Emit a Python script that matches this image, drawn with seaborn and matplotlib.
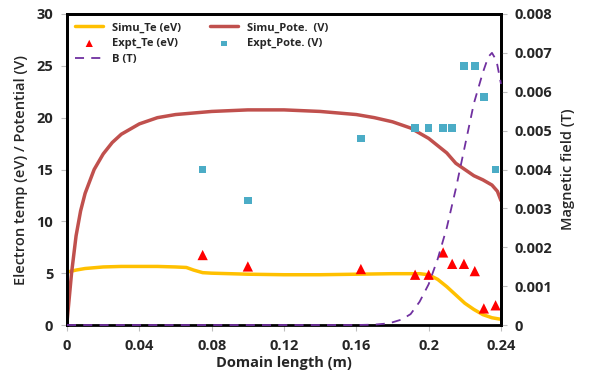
import matplotlib
matplotlib.use("Agg")
import matplotlib.pyplot as plt
import seaborn as sns
import pandas as pd

sns.set_theme(style="white")
plt.rcParams['font.family'] = ['Open Sans', 'DejaVu Sans']

# Simulated electron temperature (eV)
simu_te_x = [0, 0.005, 0.01, 0.02, 0.03, 0.04, 0.05, 0.06, 0.066, 0.07, 0.075, 0.08, 0.1, 0.12, 0.14, 0.16,
             0.18, 0.195, 0.2, 0.205, 0.21, 0.215, 0.22, 0.225, 0.23, 0.235, 0.24]
simu_te_y = [5.1, 5.3, 5.45, 5.6, 5.65, 5.65, 5.65, 5.6, 5.55, 5.3, 5.05, 5.0, 4.9, 4.85, 4.85, 4.9,
             4.95, 4.95, 4.85, 4.4, 3.7, 2.9, 2.1, 1.5, 1.0, 0.7, 0.55]

# Simulated potential (V)
simu_pot_x = [0, 0.0025, 0.005, 0.0075, 0.01, 0.015, 0.02, 0.025, 0.03, 0.04, 0.05, 0.06, 0.08, 0.1, 0.12,
              0.14, 0.16, 0.17, 0.18, 0.19, 0.2, 0.21, 0.215, 0.22, 0.225, 0.23, 0.235, 0.238, 0.24]
simu_pot_y = [0.3, 5.0, 8.6, 11.0, 12.7, 15.0, 16.5, 17.6, 18.4, 19.4, 20.0, 20.3, 20.6, 20.75, 20.75,
              20.6, 20.3, 20.0, 19.6, 19.0, 18.0, 16.6, 15.6, 15.0, 14.4, 14.0, 13.5, 12.9, 12.0]

# Experimental data
expt_x = [0.075, 0.1, 0.1625, 0.1925, 0.2, 0.208, 0.213, 0.2195, 0.2255, 0.2305, 0.237]
expt_te = [6.75, 5.65, 5.4, 4.85, 4.85, 7.0, 5.9, 5.9, 5.2, 1.6, 1.9]
expt_x_pot = [0.075, 0.1, 0.1625, 0.1925, 0.2, 0.208, 0.213, 0.2195, 0.2255, 0.2305, 0.237]
expt_pot = [15.0, 12.0, 18.0, 19.0, 19.0, 19.0, 19.0, 25.0, 25.0, 22.0, 15.0]

# Magnetic field (T)
b_x = [0, 0.04, 0.08, 0.12, 0.16, 0.17, 0.175, 0.18, 0.185, 0.19, 0.195, 0.2, 0.205, 0.21, 0.215, 0.22,
       0.225, 0.23, 0.233, 0.235, 0.2375, 0.24]
b_y = [0, 0, 0, 0, 0, 0.00001, 0.00003, 0.00007, 0.00014, 0.00028, 0.0006, 0.00105, 0.0017, 0.0025,
       0.0035, 0.0046, 0.0057, 0.0065, 0.0069, 0.0070, 0.0068, 0.0062]

fig = plt.figure(figsize=(5.89, 3.76), dpi=100)
ax = fig.add_axes([0.1138, 0.1356, 0.7368, 0.8272])
ax2 = ax.twinx()

df_te = pd.DataFrame({"x": simu_te_x, "y": simu_te_y})
df_pot = pd.DataFrame({"x": simu_pot_x, "y": simu_pot_y})
df_b = pd.DataFrame({"x": b_x, "y": b_y})

sns.lineplot(data=df_te, x="x", y="y", ax=ax, color="#FFC000", lw=2.5, label="Simu_Te (eV)", sort=False)
sns.lineplot(data=df_pot, x="x", y="y", ax=ax, color="#C0504D", lw=2.5, label="Simu_Pote.  (V)", sort=False)
sns.scatterplot(x=expt_x, y=expt_te, ax=ax, color="#FF0000", marker="^", s=55, edgecolor="none",
                label="Expt_Te (eV)", zorder=4)
sns.scatterplot(x=expt_x_pot, y=expt_pot, ax=ax, color="#4BACC6", marker="s", s=30, edgecolor="none",
                label="Expt_Pote. (V)", zorder=4)
sns.lineplot(data=df_b, x="x", y="y", ax=ax2, color="#7030A0", lw=1.3, ls=(0, (5, 4)), label="B (T)", sort=False)
for ln in ax2.get_lines():
    ln.set_clip_on(False)
    ln.set_zorder(5)

ax.set_xlim(0, 0.24)
ax.set_ylim(0, 30)
ax2.set_ylim(0, 0.008)
ax.set_xticks([0, 0.04, 0.08, 0.12, 0.16, 0.2, 0.24])
ax.set_xticklabels(["0", "0.04", "0.08", "0.12", "0.16", "0.2", "0.24"])
ax.set_yticks([0, 5, 10, 15, 20, 25, 30])
ax2.set_yticks([0, 0.001, 0.002, 0.003, 0.004, 0.005, 0.006, 0.007, 0.008])
ax2.set_yticklabels(["0", "0.001", "0.002", "0.003", "0.004", "0.005", "0.006", "0.007", "0.008"])

for a in (ax, ax2):
    a.tick_params(axis="both", which="both", length=4, width=0.8, color="#BFBFBF", labelsize=10.5, pad=6)
    for lbl in a.get_xticklabels() + a.get_yticklabels():
        lbl.set_fontweight("bold")
    for s in a.spines.values():
        s.set_color("black")
        s.set_linewidth(2)
ax2.spines["bottom"].set_visible(False)
ax.tick_params(axis="both", bottom=True, left=True)
ax2.tick_params(axis="y", right=True)

ax.set_xlabel("Domain length (m)", fontsize=10.5, fontweight="bold", labelpad=2)
ax.set_ylabel("Electron temp (eV) / Potential (V)", fontsize=10.5, fontweight="semibold", labelpad=6)
ax2.set_ylabel("Magnetic field (T)", fontsize=10.5, fontweight="semibold", labelpad=6)

h1, l1 = ax.get_legend_handles_labels()
h2, l2 = ax2.get_legend_handles_labels()
for a in (ax, ax2):
    if a.get_legend():
        a.get_legend().remove()
handles = [h1[0], h1[2], h2[0], h1[1], h1[3]]
labels = [l1[0], l1[2], l2[0], l1[1], l1[3]]
leg = ax2.legend(handles, labels, loc="upper left", ncol=2, frameon=False,
                 prop={"weight": "bold", "size": 8}, handlelength=2.5, columnspacing=2.6,
                 borderaxespad=0.35, labelspacing=0.45, markerscale=0.7)

fig.savefig("out.png", dpi=100)
